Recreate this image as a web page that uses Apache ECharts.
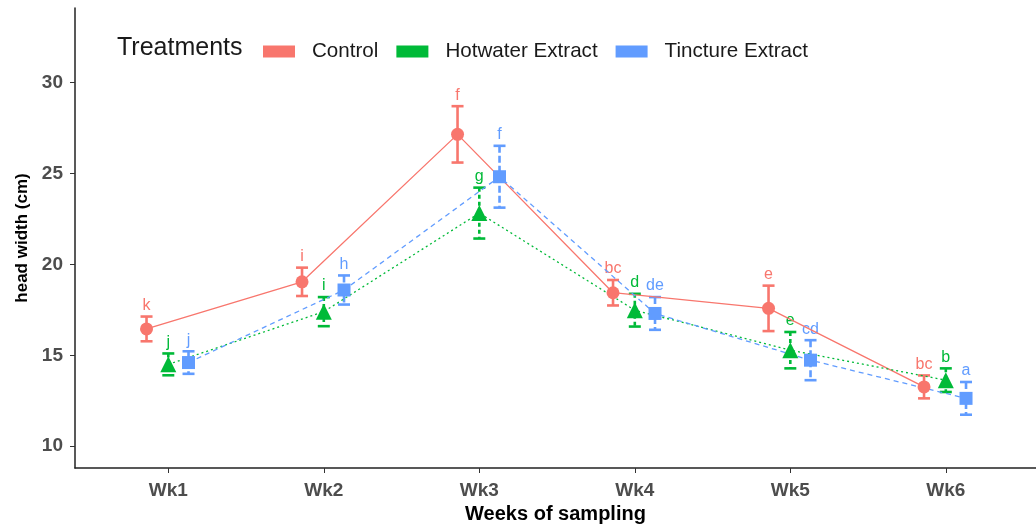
<!DOCTYPE html>
<html>
<head>
<meta charset="utf-8">
<script src="https://cdn.jsdelivr.net/npm/echarts@6/dist/echarts.min.js"></script>
<style>
  html, body { margin: 0; padding: 0; background: #fff; }
  #chart { width: 1036px; height: 526px; }
</style>
</head>
<body>
<div id="chart"></div>
<script>
const weeks = ['Wk1', 'Wk2', 'Wk3', 'Wk4', 'Wk5', 'Wk6'];
const yTicks = [10, 15, 20, 25, 30];

const controlMean = [16.45, 19.04, 27.15, 18.44, 17.58, 13.26];
const controlSe = [0.68, 0.78, 1.55, 0.7, 1.25, 0.63];
const controlLetters = ['k', 'i', 'f', 'bc', 'e', 'bc'];

const hotwaterMean = [14.5, 17.4, 22.82, 17.48, 15.28, 13.63];
const hotwaterSe = [0.6, 0.8, 1.4, 0.9, 1.0, 0.65];
const hotwaterLetters = ['j', 'i', 'g', 'd', 'e', 'b'];

const tinctureMean = [14.6, 18.59, 24.82, 17.3, 14.73, 12.63];
const tinctureSe = [0.62, 0.8, 1.7, 0.9, 1.1, 0.9];
const tinctureLetters = ['j', 'h', 'f', 'de', 'cd', 'a'];

const FONT = '"Liberation Sans", Arial, sans-serif';

const groups = [
  { name: 'Control', mean: controlMean, se: controlSe, letters: controlLetters,
    color: '#F8766D', symbol: 'circle', size: 13, dodge: -0.14, lineType: 'solid', barDash: null },
  { name: 'Hotwater Extract', mean: hotwaterMean, se: hotwaterSe, letters: hotwaterLetters,
    color: '#00BA38', symbol: 'triangle', size: 16, dodge: 0, lineType: [2, 3], barDash: [4, 3] },
  { name: 'Tincture Extract', mean: tinctureMean, se: tinctureSe, letters: tinctureLetters,
    color: '#619CFF', symbol: 'rect', size: 13, dodge: 0.13, lineType: [5, 4], barDash: [7, 3] }
];

const chart = echarts.init(document.getElementById('chart'));

const series = [];
groups.forEach(g => {
  // error bars + letters
  series.push({
    name: g.name,
    type: 'custom',
    z: 2,
    data: g.mean.map((m, i) => [i + g.dodge, m - g.se[i], m + g.se[i]]),
    renderItem: (params, api) => {
      const x = api.value(0);
      const top = api.coord([x, api.value(2)]);
      const bot = api.coord([x, api.value(1)]);
      const cap = 6;
      const st = { stroke: g.color, lineWidth: 2.6, lineDash: g.barDash };
      return {
        type: 'group',
        children: [
          { type: 'line', shape: { x1: top[0], y1: top[1], x2: bot[0], y2: bot[1] }, style: st },
          { type: 'line', shape: { x1: top[0] - cap, y1: top[1], x2: top[0] + cap, y2: top[1] }, style: { stroke: g.color, lineWidth: 2.6 } },
          { type: 'line', shape: { x1: bot[0] - cap, y1: bot[1], x2: bot[0] + cap, y2: bot[1] }, style: { stroke: g.color, lineWidth: 2.6 } },
          { type: 'text', style: {
              text: g.letters[params.dataIndex], x: top[0], y: top[1] - 11,
              align: 'center', verticalAlign: 'middle',
              fill: g.color, font: '16px ' + FONT } }
        ]
      };
    }
  });
  // mean points + connecting line
  series.push({
    name: g.name,
    type: 'line',
    z: 3,
    data: g.mean.map((m, i) => [i + g.dodge, m]),
    symbol: g.symbol,
    symbolSize: g.size,
    showAllSymbol: true,
    itemStyle: { color: g.color },
    lineStyle: { color: g.color, width: 1.3, type: g.lineType }
  });
});

const option = {
  animation: false,
  backgroundColor: '#fff',
  title: {
    text: 'Treatments',
    left: 112,
    top: 31,
    textStyle: { fontFamily: FONT, fontSize: 25, fontWeight: 'normal', color: '#1a1a1a' }
  },
  legend: {
    data: groups.map(g => ({ name: g.name, icon: 'rect', itemStyle: { color: g.color } })),
    left: 258,
    top: 36,
    itemWidth: 32,
    itemHeight: 12,
    itemGap: 18,
    textStyle: { fontFamily: FONT, fontSize: 20.6, color: '#1a1a1a', padding: [0, 0, 0, 12] }
  },
  grid: { left: 75, right: 0, top: 8, bottom: 58, containLabel: false, outerBoundsMode: 'none' },
  xAxis: {
    type: 'value',
    min: -0.6,
    max: 5.58,
    name: 'Weeks of sampling',
    nameLocation: 'middle',
    nameGap: 36,
    nameTextStyle: { fontFamily: FONT, fontSize: 20, fontWeight: 'bold', color: '#000' },
    axisLine: { show: true, onZero: false, lineStyle: { color: '#222', width: 1.5 } },
    axisTick: { show: true, length: 5, customValues: weeks.map((w, i) => i), lineStyle: { color: '#333' } },
    axisLabel: {
      customValues: weeks.map((w, i) => i),
      formatter: v => weeks[Math.round(v)],
      margin: 13,
      fontFamily: FONT, fontSize: 19, fontWeight: 'bold', color: '#4D4D4D'
    },
    splitLine: { show: false }
  },
  yAxis: {
    type: 'value',
    min: 8.8,
    max: 34.1,
    name: 'head width (cm)',
    nameLocation: 'middle',
    nameGap: 44,
    nameTextStyle: { fontFamily: FONT, fontSize: 17, fontWeight: 'bold', color: '#000' },
    axisLine: { show: true, onZero: false, lineStyle: { color: '#222', width: 1.5 } },
    axisTick: { show: true, length: 5, customValues: yTicks, lineStyle: { color: '#333' } },
    axisLabel: {
      customValues: yTicks,
      margin: 12,
      fontFamily: FONT, fontSize: 19, fontWeight: 'bold', color: '#4D4D4D'
    },
    splitLine: { show: false }
  },
  series: series
};

chart.setOption(option);
window.addEventListener('resize', () => chart.resize());
</script>
</body>
</html>
